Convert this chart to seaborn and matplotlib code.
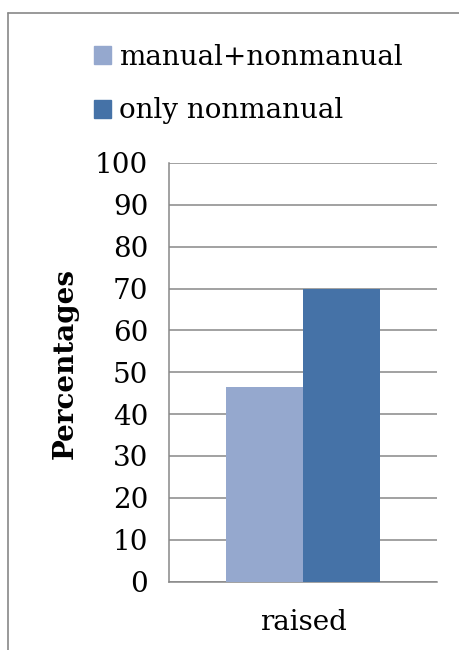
import pandas as pd
import matplotlib
matplotlib.use('Agg')
import matplotlib.pyplot as plt
from matplotlib.lines import Line2D
import seaborn as sns

# Data
categories = ['raised']
series = ['manual+nonmanual', 'only nonmanual']
percentages = [46.4, 70.0]
colors = ['#95A8CE', '#4572A7']
y_ticks = list(range(0, 101, 10))

df = pd.DataFrame({
    'category': categories * len(series),
    'series': series,
    'percent': percentages,
})

sns.set_style('white')
plt.rcParams['font.family'] = ['DejaVu Serif']
plt.rcParams['font.size'] = 20
plt.rcParams['text.color'] = 'black'
plt.rcParams['axes.labelcolor'] = 'black'
plt.rcParams['xtick.labelcolor'] = 'black'
plt.rcParams['ytick.labelcolor'] = 'black'

fig = plt.figure(figsize=(4.6, 6.5), dpi=100)
ax = fig.add_axes([169 / 460, 1 - 581.5 / 650, 268 / 460, 418.5 / 650])

grid_col = '#888888'

sns.barplot(data=df, x='category', y='percent', hue='series', palette=colors,
            saturation=1, width=0.575, linewidth=0, ax=ax, legend=False, zorder=3)

ax.set_xlim(-0.5, 0.5)
ax.set_ylim(0, 100)
ax.set_yticks(y_ticks)
ax.yaxis.grid(True, color=grid_col, linewidth=1.1, zorder=0)
ax.set_axisbelow(True)

for s in ['top', 'right']:
    ax.spines[s].set_visible(False)
for s in ['left', 'bottom']:
    ax.spines[s].set_color(grid_col)
    ax.spines[s].set_linewidth(1.1)

ax.tick_params(axis='y', length=8, width=1.1, color=grid_col, direction='out', pad=7, labelsize=20)
ax.tick_params(axis='x', which='major', length=0, pad=20, labelsize=20)
ax.set_xticks([-0.5, 0.5], minor=True)
ax.tick_params(axis='x', which='minor', length=8, width=1.1, color=grid_col, direction='out')

ax.set_xlabel('')
ax.set_ylabel('Percentages', fontweight='bold', fontsize=20)
ax.yaxis.set_label_coords(-0.335, 0.52)

# legend
handles = [plt.Rectangle((0, 0), 1, 1, color=c) for c in colors]
fig.legend(handles, series, loc='upper left', bbox_to_anchor=(94 / 460, 1 - 44 / 650),
           frameon=False, handlelength=0.61, handleheight=0.61, handletextpad=0.29,
           labelspacing=0.95, borderaxespad=0, borderpad=0, fontsize=20)

# outer chart frame (cropped at right and bottom)
fig.add_artist(Line2D([8 / 460, 8 / 460], [0, 1 - 13 / 650], color='#888888', lw=1.2))
fig.add_artist(Line2D([8 / 460, 1], [1 - 13 / 650, 1 - 13 / 650], color='#888888', lw=1.2))

fig.savefig('out.png', dpi=100)
